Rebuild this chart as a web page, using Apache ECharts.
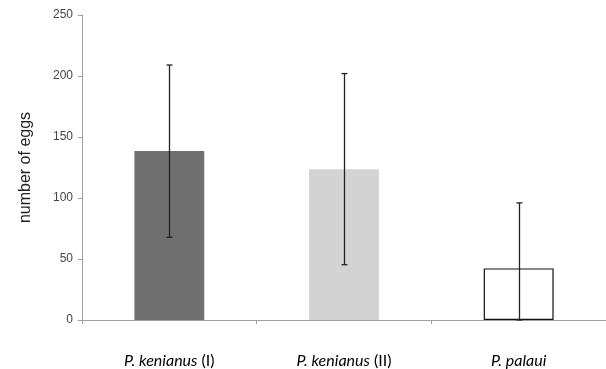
<!DOCTYPE html>
<html><head><meta charset="utf-8">
<script src="https://cdn.jsdelivr.net/npm/echarts@6/dist/echarts.min.js"></script>
<style>html,body{margin:0;padding:0;background:#fff}#c{width:606px;height:369px}</style>
</head><body><div id="c"></div>
<script>
var categories = ['P. kenianus (I)', 'P. kenianus (II)', 'P. palaui'];
var means = [138.5, 123.5, 42.3];
var errLow = [67.8, 45.3, 0];
var errHigh = [209, 202, 96];
var barColors = ['#6f6f6f', '#d3d3d3', '#ffffff'];
var yTicks = [0, 50, 100, 150, 200, 250];

var chart = echarts.init(document.getElementById('c'));
chart.setOption({
  animation: false,
  backgroundColor: '#fff',
  grid: {left: 82, right: 0, top: 15, bottom: 49},
  xAxis: {
    type: 'category', data: categories,
    axisLine: {lineStyle: {color: '#a0a0a0'}},
    axisTick: {show: true, interval: 0, length: 4, lineStyle: {color: '#a0a0a0'}},
    axisLabel: {
      interval: 0, hideOverlap: false,
      margin: 33, fontSize: 16, color: '#000', fontFamily: 'Lato',
      formatter: function (v) {
        var m = v.match(/^(.*?)( \(.*\))?$/);
        return '{i|' + m[1] + '}' + (m[2] ? '{n|' + m[2] + '}' : '');
      },
      rich: {
        i: {fontStyle: 'italic', fontSize: 16, fontFamily: 'Lato', color: '#000'},
        n: {fontSize: 16, fontFamily: 'Lato', color: '#000'}
      }
    }
  },
  yAxis: {
    type: 'value', min: 0, max: 250, interval: 50,
    name: 'number of eggs', nameLocation: 'middle', nameGap: 48,
    nameTextStyle: {fontSize: 16, color: '#222', fontFamily: 'Liberation Sans'},
    axisLine: {show: true, lineStyle: {color: '#a0a0a0'}},
    axisTick: {show: true, length: 4, lineStyle: {color: '#a0a0a0'}},
    splitLine: {show: false},
    axisLabel: {fontSize: 12, color: '#444', margin: 9, fontFamily: 'Liberation Sans',
      formatter: function (v) { return yTicks.indexOf(v) >= 0 ? String(v) : ''; }}
  },
  series: [
    {
      type: 'bar', barWidth: '40%',
      data: means.map(function (v, i) {
        return {value: v, itemStyle: {color: barColors[i], borderColor: i === 2 ? '#111' : barColors[i], borderWidth: i === 2 ? 1.2 : 0}};
      })
    },
    {
      type: 'custom', z: 5,
      data: categories.map(function (c, i) { return [i, errLow[i], errHigh[i]]; }),
      renderItem: function (params, api) {
        var lo = api.coord([api.value(0), api.value(1)]);
        var hi = api.coord([api.value(0), api.value(2)]);
        var x = Math.round(lo[0]) + 0.5, w = 3;
        var st = {stroke: '#222', lineWidth: 1.3};
        return {type: 'group', children: [
          {type: 'line', shape: {x1: x, y1: lo[1], x2: x, y2: hi[1]}, style: st},
          {type: 'line', shape: {x1: x - w, y1: hi[1], x2: x + w, y2: hi[1]}, style: st},
          {type: 'line', shape: {x1: x - w, y1: lo[1], x2: x + w, y2: lo[1]}, style: st}
        ]};
      }
    }
  ]
});
</script></body></html>
